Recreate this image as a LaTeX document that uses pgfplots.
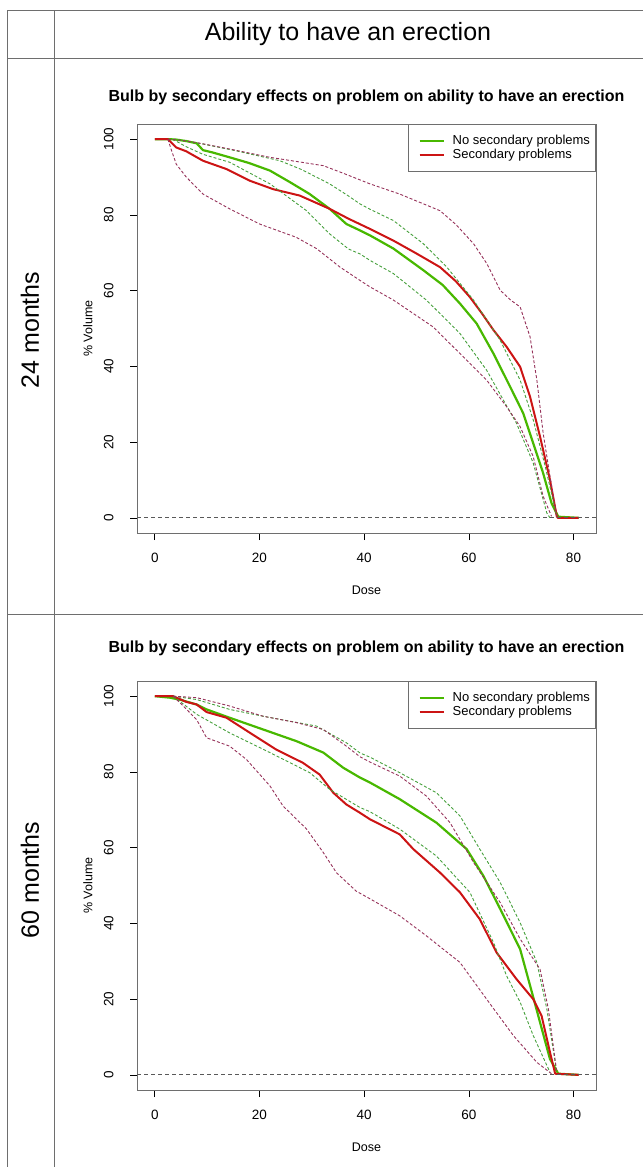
\documentclass[border=0pt]{standalone}
\usepackage{fontspec}
\setmainfont{Liberation Sans}
\usepackage{pgfplots}
\pgfplotsset{compat=1.18}

\definecolor{gsol}{RGB}{72,184,0}
\definecolor{rsol}{RGB}{204,20,20}
\definecolor{gdash}{RGB}{70,160,60}
\definecolor{rdash}{RGB}{150,50,90}
\definecolor{frame}{RGB}{110,110,110}

\pgfplotsset{dvh/.style={
  scale only axis, width=459pt, height=409pt,
  xmin=-3.4, xmax=84.3, ymin=-4, ymax=104,
  xtick={0,20,40,60,80}, ytick={0,20,40,60,80,100},
  tick pos=left, tick align=outside, major tick length=7pt,
  axis line style={frame, line width=1pt},
  tick style={black, line width=0.6pt},
  /pgf/number format/assume math mode=true,
  ticklabel style={font=\fontsize{13.5}{16}\selectfont},
  yticklabel style={rotate=90, anchor=south},
  xticklabel shift={10pt}, yticklabel shift={13pt},
  xlabel={Dose}, ylabel={\% Volume},
  label style={font=\fontsize{12.5}{14}\selectfont},
  xlabel style={at={(axis description cs:0.5,-0.139)}, anchor=center},
  ylabel style={at={(axis description cs:-0.107,0.5)}, anchor=center},
  legend style={at={(1,1)}, anchor=north east, draw=frame, line width=1pt,
    font=\fontsize{13}{15}\selectfont, inner xsep=3.5pt, inner ysep=9pt,
    cells={anchor=west}, row sep=-1pt},
  legend image code/.code={\path (0pt,0pt) (37pt,0pt); \draw[#1, line width=1.6pt] (7pt,0pt) -- (31pt,0pt);},
  every axis plot/.append style={line join=round},
  gs/.style={gsol, line width=2.2pt},
  rs/.style={rsol, line width=2pt},
  gd/.style={gdash, line width=0.9pt, dash pattern=on 3pt off 2pt},
  rd/.style={rdash, line width=0.9pt, dash pattern=on 3pt off 2pt},
  zl/.style={black!65, line width=0.8pt, dash pattern=on 4pt off 3pt},
}}

\begin{document}
\begin{tikzpicture}[x=1pt,y=1pt]
\useasboundingbox (0,0) rectangle (643,-1167);
% table frame
\draw[frame, line width=1pt] (7,-10) -- (643,-10);
\draw[frame, line width=1pt] (7,-58) -- (643,-58);
\draw[frame, line width=1pt] (7,-614) -- (643,-614);
\draw[frame, line width=1pt] (7,-10) -- (7,-1167);
\draw[frame, line width=1pt] (54,-10) -- (54,-1167);
\node[font=\fontsize{25}{30}\selectfont] at (348,-34) {Ability to have an erection};
\node[rotate=90, font=\fontsize{25}{30}\selectfont] at (30,-330) {24 months};
\node[rotate=90, font=\fontsize{25}{30}\selectfont] at (30,-880) {60 months};

% 24 months
\node[font=\bfseries\fontsize{16}{19}\selectfont] at (366.5,-97) {Bulb by secondary effects on problem on ability to have an erection};
\begin{axis}[dvh, at={(137pt,-533pt)}, anchor=south west]
\addplot[gs] coordinates {(0,100) (2.5,100) (4,99.9) (6,99.5) (8,98.9) (9.2,97.1) (11,96.5) (14.3,95.2) (18,93.7) (22,91.7) (26,88.5) (29.6,85.5) (33.4,81.6) (36.6,77.6) (39.2,75.9) (41.1,74.6) (45.6,71.1) (51.3,65.4) (55,61.5) (58.3,56.6) (61.5,51.3) (64.7,43.4) (67.9,34.6) (70.4,27.6) (72.3,19.7) (74.2,11.8) (75.8,3.9) (77.1,0.3) (81,0)};
\addlegendentry{No secondary problems}
\addplot[rs] coordinates {(0,100) (2.5,100) (4.1,97.8) (6,96.8) (9.2,94.3) (13.7,92.1) (18.2,89) (22.6,86.8) (27.7,85.1) (33.4,81.6) (37,79) (41.1,76.3) (45.6,73.2) (50,69.8) (54.5,66.2) (57.5,62.5) (60.2,58.3) (62.5,54) (64.7,49.6) (67.2,45.2) (69.8,39.9) (71.7,32) (73.6,21.5) (75.5,10.1) (76.8,0.4) (77,0) (81,0)};
\addlegendentry{Secondary problems}
\addplot[gd, forget plot] coordinates {(3.4,100) (6,99.5) (9.2,98.7) (15.6,96.9) (23.9,94.3) (28,92) (33.4,88.2) (37,85) (39.2,82.9) (41.1,81.5) (45.6,78.5) (51.3,72.4) (55.8,66.2) (60.9,57.5) (66,46.9) (69.8,36.4) (72.3,25.9) (74.6,13.6) (76.8,0.4)};
\addplot[gd, forget plot] coordinates {(3.4,100) (6,98) (9.2,96) (14.3,93.9) (22,88.2) (29,81.1) (33.4,75) (37,71) (39.2,69.7) (41.1,68) (45.6,64.5) (51.9,57.5) (58.3,48.7) (63.4,39) (66.6,31.1) (69.1,25) (72.3,14.5) (74.9,1.3) (75.5,0)};
\addplot[rd, forget plot] coordinates {(2.5,100) (5,99.7) (8,99.1) (14.3,97.4) (22,95.2) (32.2,93) (36,91) (41.1,88.2) (46.8,85.5) (54.5,81.1) (57.5,77.5) (60.9,72.4) (63.5,67) (66,60.1) (68,57.5) (69.8,55.7) (71.7,47.8) (73,36.4) (74.2,22.4) (75.5,11) (76.8,0.4)};
\addplot[rd, forget plot] coordinates {(2.5,100) (3.2,97) (4.1,93.4) (6,90) (9.2,85.5) (14.3,81.6) (20,77.6) (27,74.1) (30.9,71.1) (35.4,66.2) (39.2,62.7) (41.1,61) (45.6,57.5) (53.2,50.4) (58.3,43.4) (63.4,36.4) (67.2,29.4) (69.8,24.1) (72.3,16.2) (74.2,5.7) (75.8,0.4)};
\addplot[zl, forget plot] coordinates {(-3.4,0) (84.3,0)};
\end{axis}

% 60 months
\node[font=\bfseries\fontsize{16}{19}\selectfont] at (366.5,-648) {Bulb by secondary effects on problem on ability to have an erection};
\begin{axis}[dvh, at={(137pt,-1090pt)}, anchor=south west]
\addplot[gs] coordinates {(0,100) (2.9,99.6) (5,99) (8,97.8) (9.9,96.5) (14.3,94.3) (20.7,91.2) (27.1,88.1) (32.2,85.1) (36,81.1) (39.2,78.5) (41.1,77.2) (46.8,72.8) (53.8,66.6) (59.6,59.6) (62.8,52.5) (66,43.8) (69.8,33.2) (71.7,23.6) (73.6,13.9) (75.5,4.2) (77.1,0.3) (81,0)};
\addlegendentry{No secondary problems}
\addplot[rs] coordinates {(0,100) (3.5,100) (6,98.5) (8,97.8) (9.9,95.8) (13.7,94.3) (18.2,90.3) (23.2,85.9) (28.3,82.4) (31.5,79.3) (34.1,74.5) (36.6,71.4) (39.2,69.2) (41.1,67.5) (46.8,63.5) (49.4,59.6) (54.5,53.4) (58.3,48.2) (62.1,41.1) (65.3,32.3) (69.1,25.3) (72.3,20) (73.9,15.6) (75.5,6) (76.5,0.3) (81,0)};
\addlegendentry{Secondary problems}
\addplot[gd, forget plot] coordinates {(3.5,100) (8,99.1) (14.3,96.5) (20.7,94.7) (30.9,92.1) (36.6,87.7) (39.2,85) (41.1,83.9) (46.8,79.8) (53.8,74.5) (58.3,68.4) (62.1,59.6) (66,50.8) (69.8,40.2) (73,29.7) (74.9,17.4) (76.8,0.7)};
\addplot[gd, forget plot] coordinates {(3.5,100) (8,95.2) (14.3,90.3) (22,85.1) (29.6,79.8) (33.4,75.4) (39.2,70.6) (41.1,69.5) (46.8,64.9) (53.8,57.8) (60.2,48.2) (64.7,35) (67.2,26.2) (69.8,19.2) (72.3,10.4) (75.5,0.7)};
\addplot[rd, forget plot] coordinates {(3.5,100) (8,99.6) (14.3,97.4) (20.7,94.7) (27.1,93) (32.2,91.2) (36.6,86.8) (39.2,84) (41.1,82.6) (46.8,78.9) (51.9,73.6) (56.4,66.6) (60.9,56.1) (66,45.5) (69.8,35.9) (73.6,27.9) (75.2,17.4) (76.8,0.7)};
\addplot[rd, forget plot] coordinates {(3.5,100) (5,98) (8,93.8) (9.9,89) (14.3,86.8) (17.5,83.3) (22,76.3) (24.5,71) (29,64.9) (32.2,58.7) (34.7,53.4) (38.5,48.5) (41.1,46.5) (46.8,42) (51.9,36.7) (58.3,29.7) (63.4,20) (68.5,10.4) (73,3.3) (75.8,0.3)};
\addplot[zl, forget plot] coordinates {(-3.4,0) (84.3,0)};
\end{axis}
\end{tikzpicture}
\end{document}
